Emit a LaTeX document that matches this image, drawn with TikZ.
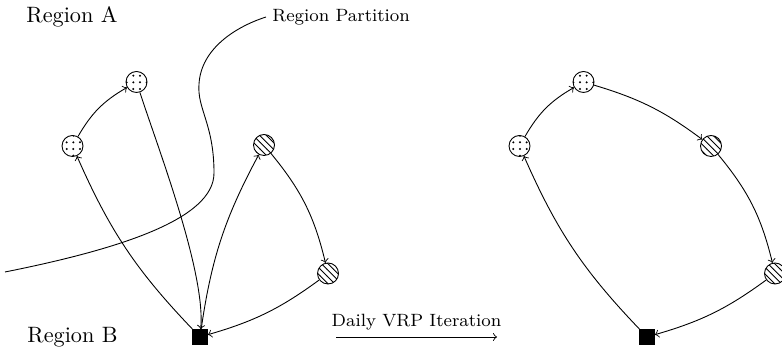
\documentclass[tikz,border=0pt]{standalone}
\usetikzlibrary{patterns}
\begin{document}
\begin{tikzpicture}[x=0.45pt,y=0.45pt,
  dotnode/.style={circle,draw,pattern=dots,minimum size=9.45pt,inner sep=0pt},
  hatchnode/.style={circle,draw,pattern=north west lines,minimum size=9.45pt,inner sep=0pt},
  depot/.style={rectangle,fill=black,draw,minimum size=6.75pt,inner sep=0pt},
  route/.style={->,thin},
  lbl/.style={inner sep=0pt,anchor=base west},
  smalllbl/.style={inner sep=0pt,font=\footnotesize}]
\useasboundingbox (0,0) rectangle (782,349);

% labels
\node[lbl] (ra) at (26,326) {Region A};
\node[lbl] (rb) at (27,6) {Region B};
\node[smalllbl,anchor=base west] (rp) at (272,327) {Region Partition};

% partition curve
\coordinate (p0) at (5,77);
\coordinate (p1) at (214,176);
\coordinate (p2) at (199,265);
\coordinate (p3) at (266,332);
\draw (p0) .. controls (120,100) and (214,130) .. (p1)
           .. controls (214,225) and (197,240) .. (p2)
           .. controls (201,300) and (235,322) .. (p3);

% left graph
\node[depot] (D) at (200,12) {};
\node[dotnode] (A1) at (72.5,203) {};
\node[dotnode] (A2) at (136.5,267) {};
\node[hatchnode] (B1) at (264,204) {};
\node[hatchnode] (B2) at (328,75.5) {};

\draw[route] (D) to[bend left=10] (A1);
\draw[route] (A1) to[bend left=15] (A2);
\draw[route] (A2) to[out=-72,in=85,looseness=0.6] (D);
\draw[route] (D) to[bend left=10] (B1);
\draw[route] (B1) to[bend left=13] (B2);
\draw[route] (B2) to[bend left=10] (D);

% iteration arrow
\coordinate (va) at (336,12);
\coordinate (vb) at (497,12);
\draw[->] (va) -- (vb);
\node[smalllbl,anchor=base] (vt) at (416.5,22) {Daily VRP Iteration};

% right graph
\node[depot] (E) at (647,12) {};
\node[dotnode] (C1) at (519.5,203) {};
\node[dotnode] (C2) at (583.5,267) {};
\node[hatchnode] (C3) at (711,203) {};
\node[hatchnode] (C4) at (775,75.5) {};

\draw[route] (E) to[bend left=10] (C1);
\draw[route] (C1) to[bend left=15] (C2);
\draw[route] (C2) to[bend left=10] (C3);
\draw[route] (C3) to[bend left=13] (C4);
\draw[route] (C4) to[bend left=10] (E);
\end{tikzpicture}
\end{document}
